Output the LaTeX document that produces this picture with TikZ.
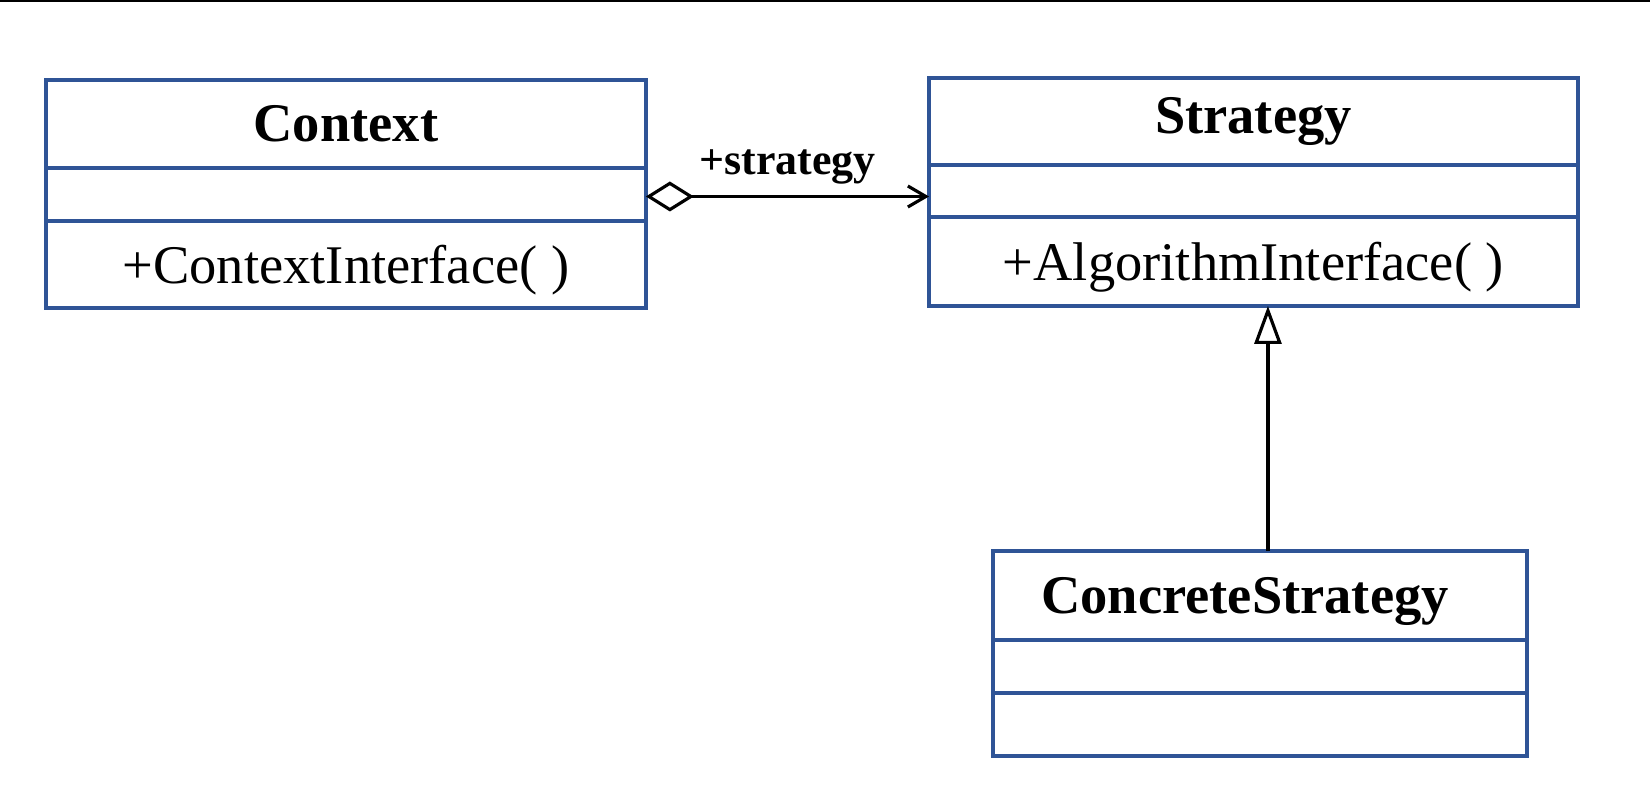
\documentclass[tikz,border=0pt]{standalone}
\usepackage{fontspec}
\setmainfont{Liberation Serif}
\usetikzlibrary{arrows.meta,positioning}

\definecolor{umlblue}{RGB}{47,84,150}

\begin{document}
\begin{tikzpicture}[x=0.02cm, y=-0.02cm,
    every node/.style={font=\fontsize{31}{36}\selectfont},
    ruang/.style={draw=umlblue, line width=2.2pt, anchor=north west, inner sep=0pt, outer sep=0pt},
    judul/.style={font=\fontsize{31}{36}\selectfont\bfseries},
    agregasi/.style={draw, line width=1.8pt, {Diamond[open, length=0.96cm, width=0.6cm]}-{Straight Barb[length=0.36cm, width=0.42cm]}},
    turunan/.style={draw, line width=1.8pt, -{Triangle[open, length=0.76cm, width=0.54cm]}}]

    % 0. Bidang gambar dan garis atas
    \useasboundingbox (0,0) rectangle (1650,790);
    \draw[line width=1pt] (0,1) -- (1650,1);

    % 1. Kelas Context
    \node[ruang, judul, minimum width=12cm, minimum height=1.76cm] (ctxhead) at (46,80) {Context};
    \node[ruang, minimum width=12cm, minimum height=1.06cm] (ctxattr) at (46,168) {};
    \node[ruang, minimum width=12cm, minimum height=1.74cm, text depth=0pt] (ctxops) at (46,221) {+ContextInterface( )};

    % 2. Kelas Strategy
    \node[ruang, judul, minimum width=12.98cm, minimum height=1.74cm] (strathead) at (929,78) {Strategy};
    \node[ruang, minimum width=12.98cm, minimum height=1.04cm] (stratattr) at (929,165) {};
    \node[ruang, minimum width=12.98cm, minimum height=1.78cm, text depth=0pt] (stratops) at (929,217) {+AlgorithmInterface( )};

    % 3. Kelas ConcreteStrategy
    \node[ruang, judul, minimum width=10.68cm, minimum height=1.78cm, text depth=0pt] (conhead) at (993,551) {ConcreteStrategy\hspace*{0.6cm}};
    \node[ruang, minimum width=10.68cm, minimum height=1.06cm] (conattr) at (993,640) {};
    \node[ruang, minimum width=10.68cm, minimum height=1.26cm] (conops) at (993,693) {};

    % 4. Agregasi Context -> Strategy
    \draw[agregasi] ([yshift=-0.04cm]ctxattr.east) -- node[midway, above=0.1cm, font=\fontsize{25}{30}\selectfont\bfseries] (lblstrat) {+strategy} ([yshift=-0.04cm]ctxattr.east -| strathead.west);

    % 5. Pewarisan ConcreteStrategy -> Strategy
    \draw[turunan] ([xshift=0.16cm]conhead.north) -- ([xshift=0.16cm]conhead.north |- stratops.south);

\end{tikzpicture}
\end{document}
